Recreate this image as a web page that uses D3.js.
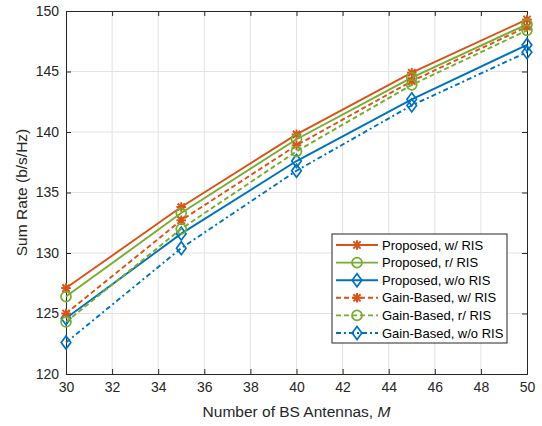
<!DOCTYPE html>
<html><head><meta charset="utf-8">
<script src="https://cdn.jsdelivr.net/npm/d3@7"></script>
<style>body{margin:0;background:#fff}svg{display:block;font-family:"Liberation Sans",Arial,sans-serif}</style>
</head><body><svg id="c" width="542" height="426"></svg>
<script>
const antennas = [30, 35, 40, 45, 50];
const xTicks = [30, 32, 34, 36, 38, 40, 42, 44, 46, 48, 50];
const yTicks = [120, 125, 130, 135, 140, 145, 150];
const seriesNames = ["Proposed, w/ RIS", "Proposed, r/ RIS", "Proposed, w/o RIS", "Gain-Based, w/ RIS", "Gain-Based, r/ RIS", "Gain-Based, w/o RIS"];
const proposedW = [127.1, 133.8, 139.8, 144.9, 149.3];
const proposedR = [126.4, 133.3, 139.4, 144.5, 148.9];
const proposedWo = [124.6, 131.6, 137.6, 142.7, 147.2];
const gainW = [125.0, 132.7, 138.9, 144.2, 148.7];
const gainR = [124.3, 132.0, 138.4, 143.9, 148.4];
const gainWo = [122.6, 130.4, 136.8, 142.2, 146.6];

const ORANGE = "#D95319", GREEN = "#77AC30", BLUE = "#0072BD";
const series = [
  {name: seriesNames[0], v: proposedW, c: ORANGE, m: "ast", dash: null},
  {name: seriesNames[1], v: proposedR, c: GREEN, m: "circ", dash: null},
  {name: seriesNames[2], v: proposedWo, c: BLUE, m: "dia", dash: null},
  {name: seriesNames[3], v: gainW, c: ORANGE, m: "ast", dash: "5,3"},
  {name: seriesNames[4], v: gainR, c: GREEN, m: "circ", dash: "5,3"},
  {name: seriesNames[5], v: gainWo, c: BLUE, m: "dia", dash: "5,3,2,3"}
];

const L = 66, R = 527, T = 11, B = 374;
const svg = d3.select("#c");
const x = d3.scaleLinear().domain([30, 50]).range([L, R]);
const y = d3.scaleLinear().domain([120, 150]).range([B, T]);
const txt = "#262626";

// grid
svg.append("g").selectAll("line").data(xTicks.slice(1, -1)).join("line")
  .attr("x1", d => x(d)).attr("x2", d => x(d)).attr("y1", T).attr("y2", B)
  .attr("stroke", "#e3e3e3").attr("stroke-width", 1);
svg.append("g").selectAll("line").data(yTicks.slice(1, -1)).join("line")
  .attr("y1", d => y(d)).attr("y2", d => y(d)).attr("x1", L).attr("x2", R)
  .attr("stroke", "#e3e3e3").attr("stroke-width", 1);

// axes
const fs = "14px";
const gx = svg.append("g").attr("transform", `translate(0,${B})`)
  .call(d3.axisBottom(x).tickValues(xTicks).tickSize(-5).tickPadding(8).tickFormat(d3.format("d")));
const gxt = svg.append("g").attr("transform", `translate(0,${T})`)
  .call(d3.axisTop(x).tickValues(xTicks).tickSize(-5).tickFormat(""));
const gy = svg.append("g").attr("transform", `translate(${L},0)`)
  .call(d3.axisLeft(y).tickValues(yTicks).tickSize(-5).tickPadding(7).tickFormat(d3.format("d")));
const gyr = svg.append("g").attr("transform", `translate(${R},0)`)
  .call(d3.axisRight(y).tickValues(yTicks).tickSize(-5).tickFormat(""));
[gx, gxt, gy, gyr].forEach(g => {
  g.selectAll("path,line").attr("stroke", txt).attr("stroke-width", 1);
  g.selectAll("text").attr("fill", txt).style("font-size", fs).style("font-family", "'Liberation Sans',Arial,sans-serif");
});

// titles
svg.append("text").attr("x", (L + R) / 2).attr("y", 417).attr("text-anchor", "middle")
  .attr("fill", txt).style("font-size", "15.5px")
  .html('Number of BS Antennas, <tspan font-style="italic">M</tspan>');
svg.append("text").attr("transform", `translate(27,${(T + B) / 2}) rotate(-90)`)
  .attr("text-anchor", "middle").attr("fill", txt).style("font-size", "15.5px")
  .text("Sum Rate (b/s/Hz)");

function marker(g, type, c, cx, cy) {
  if (type === "circ") {
    g.append("circle").attr("cx", cx).attr("cy", cy).attr("r", 5)
      .attr("fill", "none").attr("stroke", c).attr("stroke-width", 1.7);
  } else if (type === "dia") {
    g.append("path").attr("d", `M${cx},${cy - 6.5}L${cx + 4.8},${cy}L${cx},${cy + 6.5}L${cx - 4.8},${cy}Z`)
      .attr("fill", "none").attr("stroke", c).attr("stroke-width", 1.7);
  } else {
    const r = 4.8;
    const a = g.append("g").attr("stroke", c).attr("stroke-width", 2);
    a.append("line").attr("x1", cx - r).attr("x2", cx + r).attr("y1", cy).attr("y2", cy);
    a.append("line").attr("x1", cx).attr("x2", cx).attr("y1", cy - r).attr("y2", cy + r);
    const q = r * 0.75;
    a.append("line").attr("x1", cx - q).attr("x2", cx + q).attr("y1", cy - q).attr("y2", cy + q);
    a.append("line").attr("x1", cx - q).attr("x2", cx + q).attr("y1", cy + q).attr("y2", cy - q);
  }
}

const line = d3.line().x((d, i) => x(antennas[i])).y(d => y(d));
const plot = svg.append("g");
series.forEach(s => {
  plot.append("path").attr("d", line(s.v)).attr("fill", "none").attr("stroke", s.c)
    .attr("stroke-width", 1.9).attr("stroke-dasharray", s.dash);
  s.v.forEach((v, i) => marker(plot, s.m, s.c, x(antennas[i]), y(v)));
});

// legend
const lg = svg.append("g");
const lx = 332, ly = 234, lw = 175, lh = 109;
lg.append("rect").attr("x", lx).attr("y", ly).attr("width", lw).attr("height", lh)
  .attr("fill", "#fff").attr("stroke", txt).attr("stroke-width", 1);
series.forEach((s, i) => {
  const cy = ly + 11 + i * 17.6;
  lg.append("line").attr("x1", lx + 4).attr("x2", lx + 46).attr("y1", cy).attr("y2", cy)
    .attr("stroke", s.c).attr("stroke-width", 1.9).attr("stroke-dasharray", s.dash);
  marker(lg, s.m, s.c, lx + 25, cy);
  lg.append("text").attr("x", lx + 50).attr("y", cy + 4.5).attr("fill", "#000")
    .style("font-size", "13px").text(s.name);
});
</script></body></html>
